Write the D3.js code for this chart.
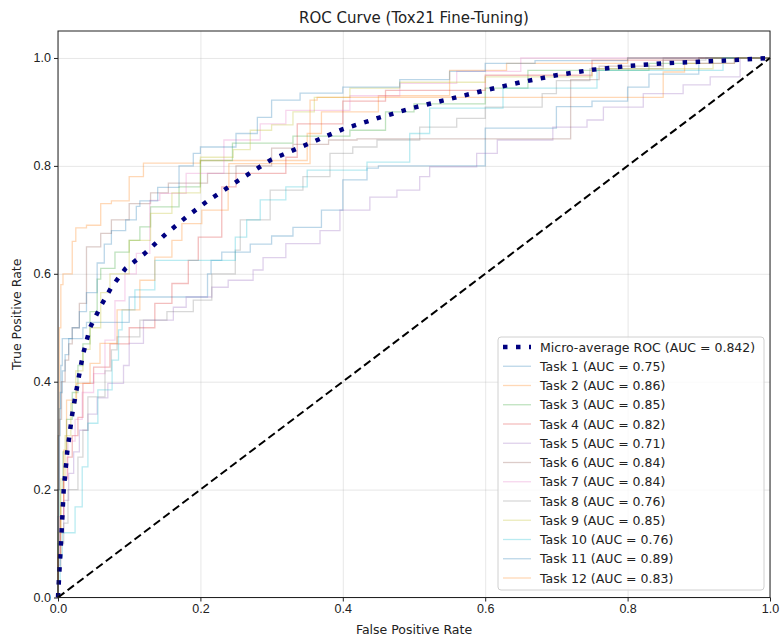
<!DOCTYPE html>
<html>
<head>
<meta charset="utf-8">
<script src="https://cdn.jsdelivr.net/npm/d3@7"></script>
<style>
  body { margin: 0; background: #fff; }
  svg { font-family: "DejaVu Sans", sans-serif; }
  .grid line { stroke: #b0b0b0; stroke-opacity: 0.3; }
  .grid .domain { display: none; }
  .axis text { font-size: 12.5px; fill: #222; }
  .axis line, .axis .domain { stroke: #222; }
</style>
</head>
<body>
<div class="chart"></div>
<script>
//! DATA
const TICKS = [0, 0.2, 0.4, 0.6, 0.8, 1.0];
const taskNames = ['Task 1', 'Task 2', 'Task 3', 'Task 4', 'Task 5', 'Task 6',
  'Task 7', 'Task 8', 'Task 9', 'Task 10', 'Task 11', 'Task 12'];
const taskAuc = [0.75, 0.86, 0.85, 0.82, 0.71, 0.84, 0.84, 0.76, 0.85, 0.76, 0.89, 0.83];
const microAuc = 0.842;

const microAvg = [[0,0],[0.002,0.05],[0.005,0.12],[0.008,0.2],[0.013,0.27],[0.02,0.34],[0.028,0.4],
  [0.035,0.45],[0.045,0.5],[0.06,0.54],[0.075,0.575],[0.095,0.61],[0.122,0.638],[0.15,0.672],
  [0.18,0.705],[0.21,0.735],[0.25,0.77],[0.3,0.812],[0.35,0.84],[0.4,0.868],[0.45,0.889],[0.5,0.908],
  [0.55,0.924],[0.6,0.94],[0.65,0.955],[0.7,0.968],[0.75,0.978],[0.8,0.985],[0.85,0.99],[0.9,0.993],
  [0.95,0.996],[1,1]];

const task1 = [[0,0],[0.002,0.2],[0.004,0.35],[0.006,0.43],[0.008,0.48],[0.035,0.48],[0.04,0.5],[0.1,0.51],
  [0.1,0.55],[0.16,0.557],[0.21,0.557],[0.215,0.6],[0.23,0.625],[0.27,0.64],[0.3,0.655],[0.33,0.67],
  [0.37,0.686],[0.4,0.718],[0.434,0.774],[0.45,0.796],[0.6,0.8],[0.6,0.86],[0.7,0.87],[0.75,0.91],
  [0.8,0.92],[0.83,0.946],[0.9,0.97],[0.95,0.99],[1,1]];
const task2 = [[0,0],[0.002,0.3],[0.004,0.5],[0.007,0.58],[0.02,0.6],[0.025,0.66],[0.04,0.685],[0.06,0.69],
  [0.075,0.73],[0.1,0.735],[0.12,0.78],[0.2,0.805],[0.35,0.81],[0.37,0.86],[0.45,0.9],[0.55,0.93],
  [0.63,0.977],[0.8,0.99],[1,1]];
const task3 = [[0,0],[0.003,0.1],[0.007,0.2],[0.012,0.27],[0.02,0.33],[0.028,0.38],[0.035,0.43],[0.045,0.47],
  [0.055,0.53],[0.06,0.59],[0.08,0.61],[0.1,0.64],[0.115,0.662],[0.13,0.687],[0.17,0.724],[0.2,0.761],
  [0.245,0.81],[0.33,0.842],[0.41,0.855],[0.46,0.866],[0.5,0.9],[0.6,0.915],[0.66,0.944],[0.83,0.977],
  [0.9,0.99],[1,1]];
const task4 = [[0,0],[0.003,0.08],[0.008,0.15],[0.013,0.22],[0.02,0.26],[0.028,0.3],[0.035,0.334],[0.05,0.397],
  [0.073,0.427],[0.1,0.47],[0.136,0.5],[0.16,0.545],[0.183,0.582],[0.197,0.625],[0.23,0.668],[0.25,0.761],
  [0.32,0.786],[0.336,0.816],[0.4,0.878],[0.46,0.92],[0.6,0.94],[0.75,0.968],[0.9,0.996],[1,1]];
const task5 = [[0,0],[0.003,0.06],[0.008,0.12],[0.015,0.18],[0.022,0.23],[0.03,0.27],[0.042,0.31],[0.055,0.34],
  [0.07,0.37],[0.092,0.397],[0.1,0.43],[0.12,0.471],[0.162,0.514],[0.18,0.538],[0.216,0.557],[0.239,0.575],
  [0.274,0.588],[0.288,0.607],[0.32,0.63],[0.368,0.656],[0.396,0.68],[0.438,0.718],[0.476,0.742],
  [0.508,0.755],[0.522,0.78],[0.588,0.798],[0.617,0.823],[0.695,0.848],[0.743,0.872],[0.766,0.885],
  [0.822,0.909],[0.878,0.934],[0.916,0.95],[0.958,0.965],[0.985,1],[1,1]];
const task6 = [[0,0],[0.002,0.2],[0.005,0.33],[0.01,0.4],[0.015,0.44],[0.02,0.47],[0.03,0.5],[0.04,0.545],
  [0.06,0.65],[0.075,0.675],[0.1,0.7],[0.13,0.73],[0.155,0.75],[0.21,0.768],[0.25,0.786],[0.3,0.8],
  [0.33,0.833],[0.38,0.84],[0.42,0.848],[0.72,0.85],[0.72,0.9],[0.76,0.96],[0.85,0.985],[1,1]];
const task7 = [[0,0],[0.003,0.08],[0.008,0.15],[0.014,0.22],[0.024,0.29],[0.034,0.33],[0.05,0.38],[0.066,0.415],
  [0.08,0.477],[0.094,0.55],[0.11,0.6],[0.129,0.638],[0.143,0.736],[0.18,0.749],[0.233,0.786],[0.284,0.848],
  [0.32,0.878],[0.41,0.903],[0.48,0.93],[0.56,0.953],[0.65,0.975],[0.73,1.0],[1,1]];
const task8 = [[0,0],[0.004,0.05],[0.008,0.1],[0.014,0.138],[0.028,0.2],[0.035,0.26],[0.042,0.31],[0.066,0.372],
  [0.075,0.42],[0.083,0.459],[0.115,0.483],[0.153,0.514],[0.19,0.53],[0.216,0.551],[0.249,0.6],[0.256,0.644],
  [0.298,0.7],[0.344,0.755],[0.382,0.78],[0.414,0.823],[0.448,0.835],[0.508,0.848],[0.56,0.872],[0.6,0.888],
  [0.68,0.909],[0.7,0.934],[0.747,0.958],[0.85,0.98],[0.91,0.996],[1,1]];
const task9 = [[0,0],[0.004,0.12],[0.01,0.22],[0.018,0.3],[0.025,0.36],[0.035,0.42],[0.045,0.46],[0.06,0.5],
  [0.073,0.565],[0.1,0.6],[0.13,0.662],[0.16,0.712],[0.2,0.75],[0.246,0.816],[0.27,0.83],[0.3,0.866],
  [0.33,0.876],[0.36,0.9],[0.41,0.927],[0.48,0.944],[0.6,0.955],[0.75,0.965],[0.92,0.98],[1,1]];
const task10 = [[0,0],[0.003,0.03],[0.006,0.075],[0.024,0.12],[0.034,0.168],[0.042,0.242],[0.056,0.323],
  [0.076,0.385],[0.085,0.44],[0.09,0.496],[0.108,0.533],[0.136,0.57],[0.188,0.625],[0.249,0.625],
  [0.265,0.668],[0.284,0.7],[0.32,0.737],[0.35,0.761],[0.434,0.792],[0.494,0.807],[0.522,0.86],
  [0.625,0.907],[0.757,0.944],[0.934,0.977],[1,1]];
const task11 = [[0,0],[0.001,0.15],[0.003,0.3],[0.006,0.38],[0.01,0.42],[0.015,0.45],[0.02,0.48],[0.03,0.5],
  [0.04,0.53],[0.055,0.565],[0.065,0.62],[0.075,0.655],[0.095,0.68],[0.11,0.7],[0.115,0.725],[0.14,0.735],
  [0.17,0.76],[0.19,0.8],[0.2,0.823],[0.25,0.835],[0.28,0.86],[0.3,0.89],[0.34,0.922],[0.4,0.935],
  [0.48,0.946],[0.55,0.96],[0.6,0.975],[0.67,0.99],[0.8,0.995],[1,1]];
const task12 = [[0,0],[0.004,0.08],[0.008,0.17],[0.012,0.273],[0.026,0.366],[0.045,0.397],[0.059,0.434],
  [0.083,0.471],[0.115,0.533],[0.136,0.588],[0.16,0.631],[0.174,0.662],[0.202,0.693],[0.239,0.718],
  [0.24,0.761],[0.25,0.804],[0.354,0.804],[0.364,0.922],[0.6,0.927],[0.85,0.927],[0.88,0.974],
  [0.95,0.99],[1,1]];

const taskCurves = [task1, task2, task3, task4, task5, task6, task7, task8, task9, task10, task11, task12];

//! CONSTS
const WIDTH = 780;
const HEIGHT = 636;
const MARGIN = { top: 31, right: 10, bottom: 38.5, left: 58 };
const PLOT_W = WIDTH - MARGIN.left - MARGIN.right;
const PLOT_H = HEIGHT - MARGIN.top - MARGIN.bottom;
const FONT = 12.5;
const palette = d3.schemeCategory10;

//! SVG
const svg = d3.select('.chart')
  .append('svg')
  .attr('width', WIDTH)
  .attr('height', HEIGHT);

const g = svg.append('g')
  .attr('transform', `translate(${MARGIN.left},${MARGIN.top})`);

const x = d3.scaleLinear().domain([0, 1]).range([0, PLOT_W]);
const y = d3.scaleLinear().domain([0, 1.05]).range([PLOT_H, 0]);

// grid
g.append('g')
  .attr('class', 'grid')
  .attr('transform', `translate(0,${PLOT_H})`)
  .call(d3.axisBottom(x).tickValues(TICKS).tickSize(-PLOT_H).tickFormat(''));
g.append('g')
  .attr('class', 'grid')
  .call(d3.axisLeft(y).tickValues(TICKS).tickSize(-PLOT_W).tickFormat(''));

// per-task curves
const stepLine = d3.line()
  .x(d => x(d[0]))
  .y(d => y(d[1]))
  .curve(d3.curveStepBefore);

g.append('g')
  .selectAll('path')
  .data(taskCurves)
  .enter()
  .append('path')
  .attr('d', stepLine)
  .attr('fill', 'none')
  .attr('stroke', (d, i) => palette[i % 10])
  .attr('stroke-opacity', 0.3)
  .attr('stroke-width', 1.3);

// micro-average
const microLine = d3.line()
  .x(d => x(d[0]))
  .y(d => y(d[1]));

g.append('path')
  .datum(microAvg)
  .attr('d', microLine)
  .attr('fill', 'none')
  .attr('stroke', '#000080')
  .attr('stroke-width', 4.5)
  .attr('stroke-dasharray', '4.5,8.5');

// chance diagonal
g.append('path')
  .datum([[0, 0], [1, 1]])
  .attr('d', microLine)
  .attr('fill', 'none')
  .attr('stroke', '#000')
  .attr('stroke-width', 2)
  .attr('stroke-dasharray', '8,4');

// frame + axes
g.append('rect')
  .attr('width', PLOT_W)
  .attr('height', PLOT_H)
  .attr('fill', 'none')
  .attr('stroke', '#222')
  .attr('stroke-width', 1);

g.append('g')
  .attr('class', 'axis')
  .attr('transform', `translate(0,${PLOT_H})`)
  .call(d3.axisBottom(x).tickValues(TICKS).tickSize(4).tickPadding(3).tickFormat(d3.format('.1f')))
  .call(a => a.select('.domain').remove());
g.append('g')
  .attr('class', 'axis')
  .call(d3.axisLeft(y).tickValues(TICKS).tickSize(4).tickPadding(3).tickFormat(d3.format('.1f')))
  .call(a => a.select('.domain').remove());

// titles
svg.append('text')
  .attr('x', MARGIN.left + PLOT_W / 2)
  .attr('y', 23)
  .attr('text-anchor', 'middle')
  .attr('font-size', 15)
  .attr('fill', '#222')
  .text('ROC Curve (Tox21 Fine-Tuning)');

svg.append('text')
  .attr('x', MARGIN.left + PLOT_W / 2)
  .attr('y', 634)
  .attr('text-anchor', 'middle')
  .attr('font-size', FONT)
  .attr('fill', '#222')
  .text('False Positive Rate');

svg.append('text')
  .attr('transform', `translate(21,${MARGIN.top + PLOT_H / 2}) rotate(-90)`)
  .attr('text-anchor', 'middle')
  .attr('font-size', FONT)
  .attr('fill', '#222')
  .text('True Positive Rate');

//! LEGEND
const legendItems = [{ label: `Micro-average ROC (AUC = ${microAuc.toFixed(3)})`, micro: true }]
  .concat(taskNames.map((n, i) => ({ label: `${n} (AUC = ${taskAuc[i].toFixed(2)})`, color: palette[i % 10] })));

const ROW = 19.25;
const legend = svg.append('g')
  .attr('transform', 'translate(498,337)');

legend.append('rect')
  .attr('width', 266)
  .attr('height', 253)
  .attr('rx', 3)
  .attr('fill', '#fff')
  .attr('fill-opacity', 0.8)
  .attr('stroke', '#d0d0d0');

const rows = legend.selectAll('g.row')
  .data(legendItems)
  .enter()
  .append('g')
  .attr('class', 'row')
  .attr('transform', (d, i) => `translate(0,${10 + i * ROW})`);

rows.append('line')
  .attr('x1', 5)
  .attr('x2', 33)
  .attr('stroke', d => d.micro ? '#000080' : d.color)
  .attr('stroke-opacity', d => d.micro ? 1 : 0.3)
  .attr('stroke-width', d => d.micro ? 4.5 : 1.3)
  .attr('stroke-dasharray', d => d.micro ? '4.5,8.5' : null);

rows.append('text')
  .attr('x', 42)
  .attr('dy', '0.36em')
  .attr('font-size', FONT)
  .attr('fill', '#222')
  .text(d => d.label);
</script>
</body>
</html>
